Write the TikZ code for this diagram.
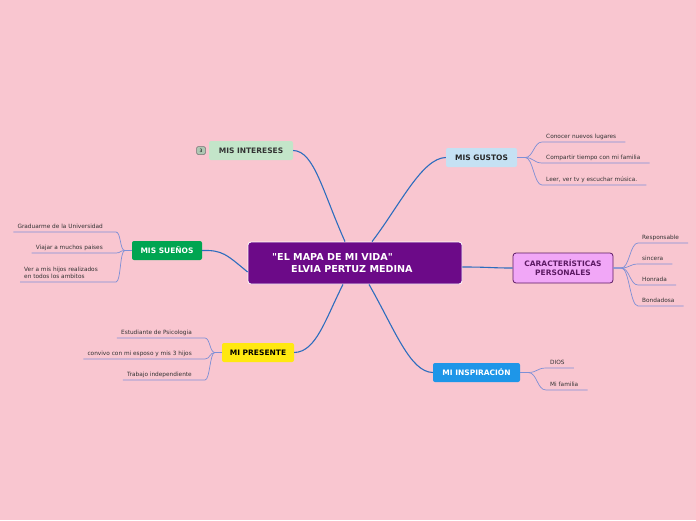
\documentclass[tikz,border=0pt]{standalone}
\usepackage{fontspec}
\setmainfont{DejaVu Sans}
\newfontfamily\titulofont{DejaVu Sans}
\definecolor{fondo}{HTML}{F9C6D0}
\definecolor{centro}{HTML}{6C0A88}
\definecolor{ramaazul}{HTML}{2D6DBE}
\definecolor{subazul}{HTML}{7D8FD6}
\definecolor{interesesc}{HTML}{C3E5C9}
\definecolor{gustosc}{HTML}{C5E1F3}
\definecolor{suenosc}{HTML}{00A551}
\definecolor{caractc}{HTML}{F1A7F7}
\definecolor{caractb}{HTML}{5C1A63}
\definecolor{presentec}{HTML}{FFE810}
\definecolor{inspirac}{HTML}{1E96E8}
\definecolor{hojatexto}{HTML}{333333}
\tikzset{
  tema/.style={rounded corners=2pt, font=\fontsize{7.5}{9}\selectfont\bfseries, inner sep=0pt, minimum height=19pt},
  rama/.style={draw=ramaazul, line width=1.1pt},
  sub/.style={draw=subazul, line width=0.7pt},
  hoja/.style={font=\fontsize{5.8}{7.2}\selectfont, text=hojatexto, inner xsep=4pt, inner ysep=2pt, text depth=1.5pt},
}
\begin{document}
\begin{tikzpicture}[x=1pt,y=-1pt]
  \fill[fondo] (0,0) rectangle (696,520);
  % centro
  \node[fill=centro, draw=white, line width=0.8pt, rounded corners=3pt, minimum width=214pt, minimum height=42pt] (centro) at (355,263) {};
  \node[text=white, font=\titulofont\fontsize{9.6}{11}\selectfont\bfseries, anchor=west, inner sep=0pt] (titulo1) at (272,257) {"EL MAPA DE MI VIDA"};
  \node[text=white, font=\fontsize{9.6}{11}\selectfont\bfseries, anchor=west, inner sep=0pt] (titulo2) at (291,269) {ELVIA PERTUZ MEDINA};
  % temas
  \node[tema, fill=interesesc, text=black!80, minimum width=84pt] (intereses) at (251,150.5) {MIS INTERESES};
  \node[rounded corners=1.5pt, draw=black!55, fill=interesesc!70!gray, line width=0.5pt, minimum width=9pt, minimum height=8pt, inner sep=0pt, font=\fontsize{4.5}{5}\selectfont] (cuenta) at (201,150.5) {3};
  \node[tema, fill=gustosc, text=black!85, minimum width=71pt] (gustos) at (481.5,157.5) {MIS GUSTOS};
  \node[tema, fill=suenosc, text=white, minimum width=70pt] (suenos) at (167,250.5) {MIS SUEÑOS};
  \node[tema, fill=caractc, draw=caractb, line width=0.8pt, text=caractb, minimum width=100pt, minimum height=30pt, align=center, rounded corners=3pt] (caract) at (563,268) {CARACTERÍSTICAS\\PERSONALES};
  \node[tema, fill=presentec, text=black, minimum width=72pt] (presente) at (258,352.5) {MI PRESENTE};
  \node[tema, fill=inspirac, text=white, minimum width=87pt] (inspira) at (476.5,372.5) {MI INSPIRACIÓN};
  % ramas principales
  \draw[rama] ([xshift=-10pt]centro.north) .. controls (322,190) and (314,151) .. (intereses.east);
  \draw[rama] ([xshift=17pt]centro.north) .. controls (400,205) and (422,158) .. (gustos.west);
  \draw[rama] ([yshift=-9pt]centro.west) .. controls (226,254) and (222,250) .. (suenos.east);
  \draw[rama] ([yshift=-4pt]centro.east) .. controls (490,267) and (490,268) .. (caract.west);
  \draw[rama] ([xshift=-12pt]centro.south) .. controls (325,320) and (316,352) .. (presente.east);
  \draw[rama] ([xshift=14pt]centro.south) .. controls (395,330) and (410,372) .. (inspira.west);
  % mis gustos
  \node[hoja, anchor=south west] (g1) at (542,142) {Conocer nuevos lugares};
  \node[hoja, anchor=south west] (g2) at (542,163) {Compartir tiempo con mi familia};
  \node[hoja, anchor=south west] (g3) at (542,185) {Leer, ver tv y escuchar música.};
  \foreach \h in {g1,g2,g3}
    \draw[sub] (gustos.east) -- ++(8,0) .. controls +(8,0) and +(-8,0) .. (\h.south west) -- ([xshift=5pt]\h.south east);
  % caracteristicas
  \node[hoja, anchor=south west] (c1) at (638,243) {Responsable};
  \node[hoja, anchor=south west] (c2) at (638,264) {sincera};
  \node[hoja, anchor=south west] (c3) at (638,285) {Honrada};
  \node[hoja, anchor=south west] (c4) at (638,306) {Bondadosa};
  \foreach \h in {c1,c2,c3,c4}
    \draw[sub] (caract.east) -- ++(8,0) .. controls +(8,0) and +(-8,0) .. (\h.south west) -- ([xshift=5pt]\h.south east);
  % mi inspiracion
  \node[hoja, anchor=south west] (i1) at (546,368) {DIOS};
  \node[hoja, anchor=south west] (i2) at (546,390) {Mi familia};
  \foreach \h in {i1,i2}
    \draw[sub] (inspira.east) -- ++(8,0) .. controls +(9,0) and +(-9,0) .. (\h.south west) -- ([xshift=5pt]\h.south east);
  % mis suenos
  \node[hoja, anchor=south east] (s1) at (107,232) {Graduarme de la Universidad};
  \node[hoja, anchor=south east] (s2) at (107,253) {Viajar a muchos paises};
  \node[hoja, anchor=south west, align=left] (s3) at (20,282) {Ver a mis hijos realizados\\en todos los ambitos};
  \foreach \h in {s1,s2}
    \draw[sub] (suenos.west) -- ++(-7,0) .. controls +(-5,0) and +(5,0) .. ([xshift=9pt]\h.south east) -- (\h.south west);
  \draw[sub] (suenos.west) -- ++(-7,0) .. controls +(-5,0) and +(5,0) .. (116,282) -- (s3.south west);
  % mi presente
  \node[hoja, anchor=south east] (p1) at (196,338) {Estudiante de Psicologia};
  \node[hoja, anchor=south east] (p2) at (196,359) {convivo con mi esposo y mis 3 hijos};
  \node[hoja, anchor=south east] (p3) at (196,380) {Trabajo independiente};
  \foreach \h in {p1,p2,p3}
    \draw[sub] (presente.west) -- ++(-7,0) .. controls +(-5,0) and +(5,0) .. ([xshift=9pt]\h.south east) -- (\h.south west);
\end{tikzpicture}
\end{document}
